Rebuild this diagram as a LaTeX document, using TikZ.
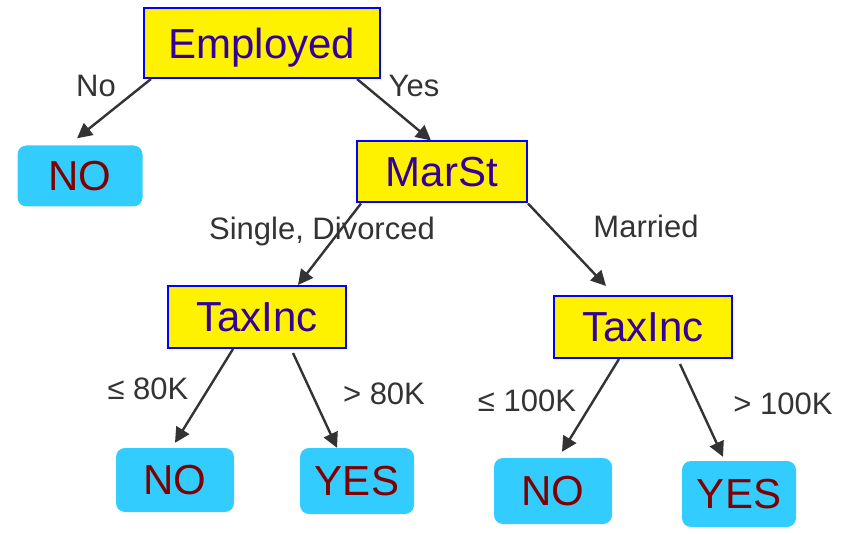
\documentclass[tikz,border=0pt]{standalone}
\usepackage{fontspec}
\setmainfont{Liberation Sans}
\usetikzlibrary{arrows.meta}
\definecolor{boxblue}{HTML}{0000FF}
\definecolor{boxtext}{HTML}{330099}
\definecolor{leafcyan}{HTML}{33CCFF}
\definecolor{leafred}{HTML}{800000}
\definecolor{edgegray}{HTML}{333333}

\begin{document}
\begin{tikzpicture}[x=1pt, y=-1pt,
    test/.style={draw=boxblue, line width=2pt, fill=yellow, text=boxtext, font=\fontsize{42}{50}\selectfont, inner sep=0pt, text depth=0pt},
    leaf/.style={fill=leafcyan, rounded corners=9pt, text=leafred, font=\fontsize{42}{50}\selectfont, inner sep=0pt, text depth=0pt},
    edge/.style={draw=edgegray, line width=2.4pt, -{Triangle[length=15pt,width=15pt]}},
    cond/.style={text=edgegray, font=\fontsize{31}{37}\selectfont, inner sep=0pt}]
    \useasboundingbox (0,0) rectangle (854,534);

    % test nodes
    \node[test, minimum width=236pt, minimum height=70pt] (emp) at (262, 43) {Employed};
    \node[test, minimum width=170pt, minimum height=61pt] (mar) at (442, 172) {MarSt};
    \node[test, minimum width=178pt, minimum height=62pt] (tax1) at (257, 317) {TaxInc};
    \node[test, minimum width=178pt, minimum height=62pt] (tax2) at (643, 327) {TaxInc};

    % leaves
    \node[leaf, minimum width=125pt, minimum height=61pt] (no1) at (80, 176) {NO};
    \node[leaf, minimum width=118pt, minimum height=64pt] (no2) at (175, 480) {NO};
    \node[leaf, minimum width=114pt, minimum height=66pt] (yes1) at (357, 481) {YES};
    \node[leaf, minimum width=118pt, minimum height=66pt] (no3) at (553, 491) {NO};
    \node[leaf, minimum width=114pt, minimum height=66pt] (yes2) at (739, 494) {YES};

    % branches
    \draw[edge] ([xshift=8pt]emp.south west) -- ([xshift=-3pt,yshift=7pt]no1.north);
    \draw[edge] ([xshift=-24pt]emp.south east) -- ([xshift=75pt]mar.north west);
    \draw[edge] ([xshift=5pt]mar.south west) -- ([xshift=41pt]tax1.north);
    \draw[edge] (mar.south east) -- ([xshift=-37pt,yshift=9pt]tax2.north);
    \draw[edge] ([xshift=-24pt]tax1.south) -- ([yshift=5pt]no2.north);
    \draw[edge] ([xshift=36pt,yshift=-4pt]tax1.south) -- ([xshift=-20pt]yes1.north);
    \draw[edge] ([xshift=-24pt]tax2.south) -- ([xshift=9pt,yshift=6pt]no3.north);
    \draw[edge] ([xshift=37pt,yshift=-5pt]tax2.south) -- ([xshift=-16pt,yshift=4pt]yes2.north);

    % branch labels
    \node[cond] (lno) at (96, 86) {No};
    \node[cond] (lyes) at (414, 86) {Yes};
    \node[cond] (lsd) at (322, 231) {Single, Divorced};
    \node[cond] (lmar) at (646, 226) {Married};
    \node[cond] (lle80) at (148, 389) {≤ 80K};
    \node[cond] (lgt80) at (384, 394) {> 80K};
    \node[cond] (lle100) at (527, 401) {≤ 100K};
    \node[cond] (lgt100) at (783, 404) {> 100K};
\end{tikzpicture}
\end{document}
